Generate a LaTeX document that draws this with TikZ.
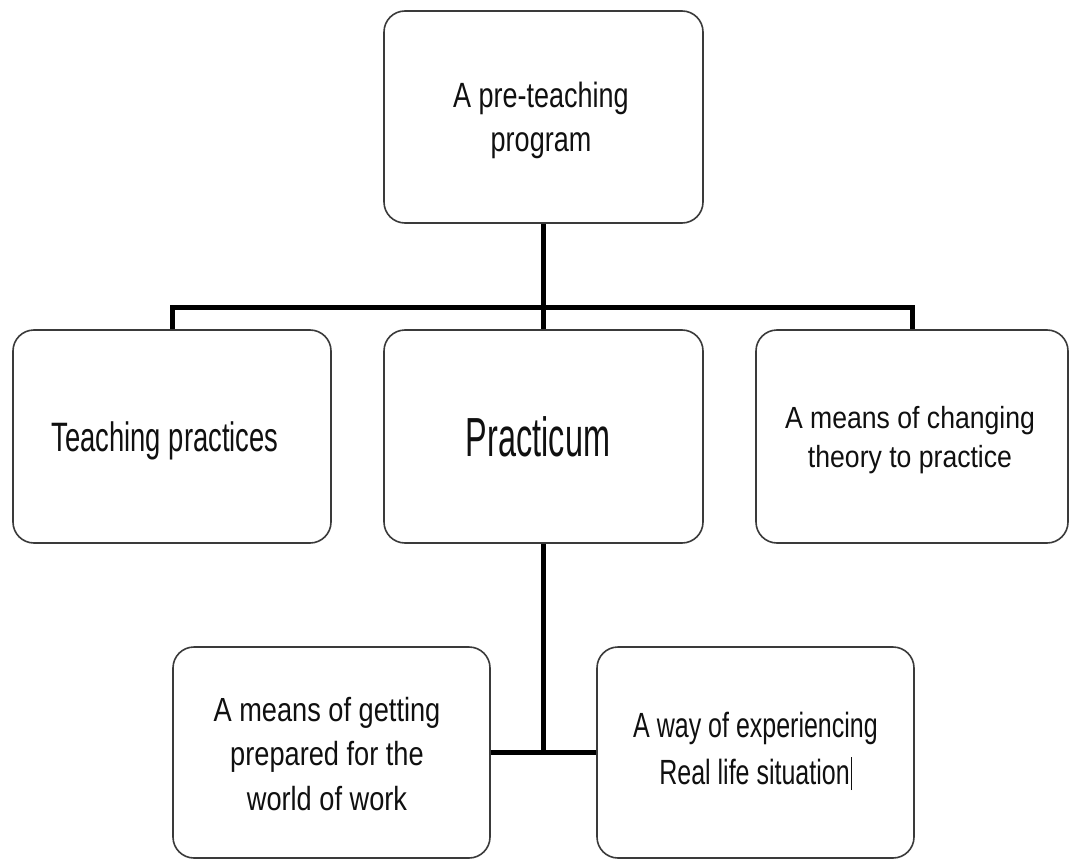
\documentclass[tikz,border=0pt]{standalone}
\usepackage{fontspec}
\setmainfont{Liberation Sans}
\usepackage{graphicx}
\newcommand\boxtext[4]{\scalebox{1}[#1]{\fontsize{#2}{#3}\selectfont\begin{tabular}{@{}c@{}}#4\end{tabular}}}
\definecolor{edge}{HTML}{3A3A3A}
\definecolor{ink}{HTML}{101010}
\tikzset{
  card/.style={draw=edge, line width=1.6pt, rounded corners=21pt, fill=white,
    inner sep=0pt},
  words/.style={text=ink, inner sep=0pt, align=center},
  link/.style={draw=black, line width=5pt, line join=miter},
}
\begin{document}
\begin{tikzpicture}[x=1pt,y=-1pt]
\useasboundingbox (0,0) rectangle (1070,861);
\fill[white] (0,0) rectangle (1070,861);
% boxes
\node[card, minimum width=319pt, minimum height=212pt] (top) at (543.5,117) {};
\node[card, minimum width=318pt, minimum height=213pt] (lt) at (172,436.5) {};
\node[card, minimum width=319pt, minimum height=213pt] (mid) at (543.5,436.5) {};
\node[card, minimum width=312pt, minimum height=213pt] (rt) at (912,436.5) {};
\node[card, minimum width=317pt, minimum height=211pt] (bl) at (331.5,752.5) {};
\node[card, minimum width=317pt, minimum height=211pt] (br) at (755.5,752.5) {};
% texts
\node[words] (topT) at (541,121) {\boxtext{1.3}{27}{34}{A pre-teaching\\program}};
\node[words] (ltT) at (165,442) {\boxtext{1.5}{27.4}{33}{Teaching practices}};
\node[words] (midT) at (538,444) {\boxtext{1.7}{32.4}{38}{Practicum}};
\node[words] (rtT) at (910,440) {\boxtext{1.15}{26.6}{34}{A means of changing\\theory to practice}};
\node[words] (blT) at (327,757) {\boxtext{1.23}{27.2}{36}{A means of getting\\prepared for the\\world of work}};
\node[words] (brT) at (755.5,752) {\boxtext{1.4}{25}{33.6}{A way of experiencing\\Real life situation\kern1pt\rule[-0.15em]{0.9pt}{0.95em}}};
% connectors
\draw[link] (top.south) -- (mid.north);
\draw[link] (lt.north) -- ++(0,-22) -| (rt.north);
\draw[link] (mid.south) -- (mid.south |- bl.east);
\draw[link] (bl.east) -- (br.west);
\end{tikzpicture}
\end{document}
